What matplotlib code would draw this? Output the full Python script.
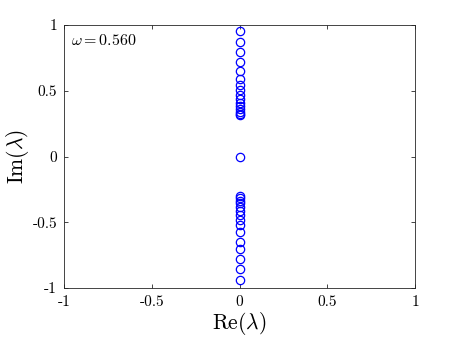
import numpy as np
import matplotlib
matplotlib.use("Agg")
import matplotlib.pyplot as plt

plt.rcParams["font.family"] = "serif"
plt.rcParams["font.serif"] = ["cmr10", "DejaVu Serif"]
plt.rcParams["mathtext.fontset"] = "cm"
plt.rcParams["axes.unicode_minus"] = False

im_vals = [
    0.954, 0.873, 0.797, 0.721, 0.650, 0.587, 0.545, 0.505, 0.47, 0.44,
    0.41, 0.385, 0.36, 0.34, 0.325, 0.315,
    0.0,
    -0.30, -0.315, -0.335, -0.355, -0.38, -0.41, -0.445, -0.48, -0.52,
    -0.57, -0.648, -0.706, -0.78, -0.855, -0.94,
]
re_vals = [0.0] * len(im_vals)

x_ticks = [-1, -0.5, 0, 0.5, 1]
tick_labels = ["-1", "-0.5", "0", "0.5", "1"]

fig = plt.figure(figsize=(4.58, 3.43), dpi=100)
ax = fig.add_axes([0.1397, 0.160, 0.7665, 0.767])

ax.plot(re_vals, im_vals, linestyle="none", marker="o", markersize=6,
        markerfacecolor="none", markeredgecolor=(0, 0, 1), markeredgewidth=0.9)

ax.set_xlim(-1, 1)
ax.set_ylim(-1, 1)
ax.set_xticks(x_ticks)
ax.set_xticklabels(tick_labels)
ax.set_yticks(x_ticks)
ax.set_yticklabels(tick_labels)
ax.tick_params(direction="in", top=True, right=True, length=3, width=0.6,
               labelsize=11, color=(0.15, 0.15, 0.15), pad=5)
for s in ax.spines.values():
    s.set_linewidth(0.6)
    s.set_color((0.15, 0.15, 0.15))

ax.set_xlabel(r"$\mathrm{Re}(\lambda)$", fontsize=15.5, labelpad=1)
ax.set_ylabel(r"$\mathrm{Im}(\lambda)$", fontsize=15.5, labelpad=1)
ax.text(0.02, 0.94, r"$\omega = 0.560$", transform=ax.transAxes,
        fontsize=11.5, ha="left", va="center")

fig.savefig("out.png", dpi=100)
